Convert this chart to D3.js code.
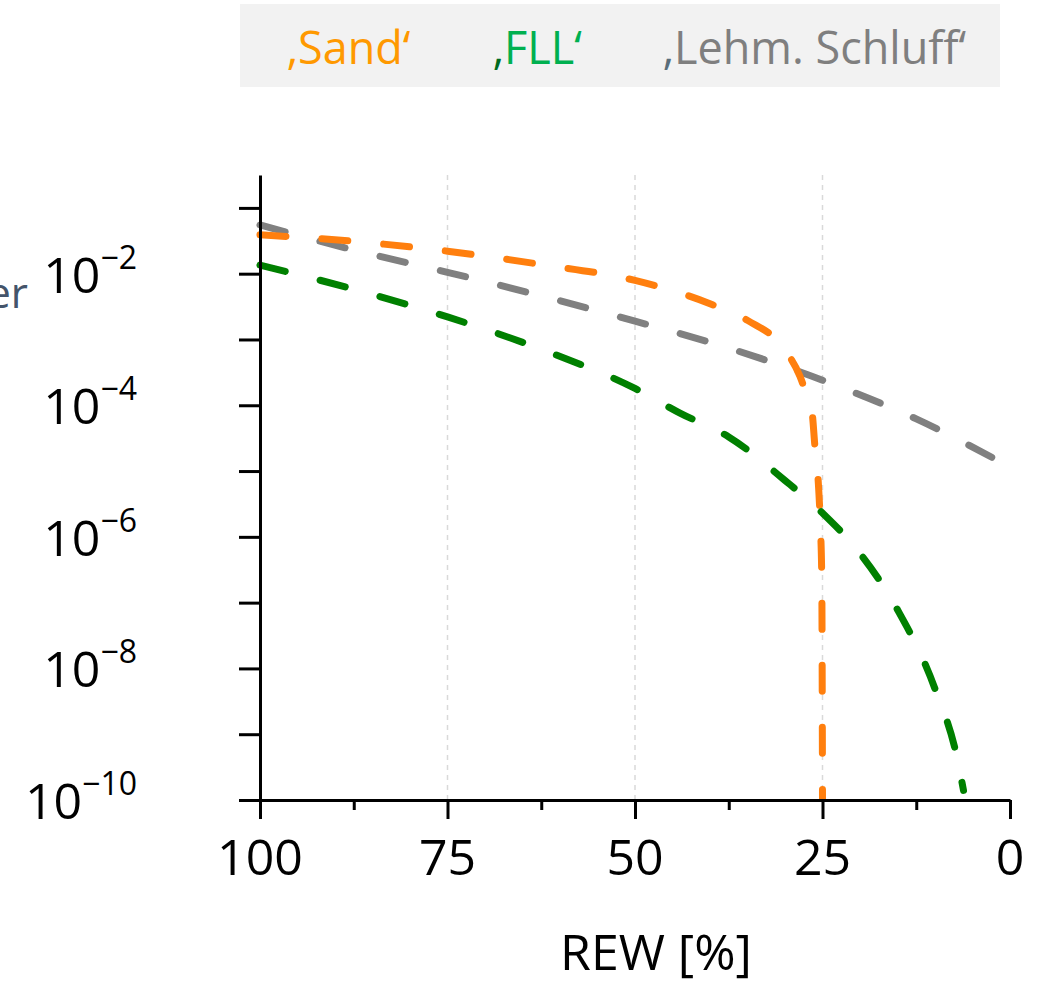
<!DOCTYPE html>
<html>
<head>
<meta charset="utf-8">
<script src="https://cdn.jsdelivr.net/npm/d3@7/dist/d3.min.js"></script>
<style>
  html, body { margin: 0; padding: 0; background: #fff; }
  svg { display: block; }
  text { font-family: "Open Sans", "Noto Sans", sans-serif; }
</style>
</head>
<body>
<svg id="chart" width="1043" height="983"></svg>
<script>
// Relative extractable water (REW, %) for each soil curve
const sandRew = [100, 87.5, 75, 62.5, 50, 40, 35, 30, 28, 27, 26.4, 26, 25.6, 25.3, 25.1, 25];
const sandVal = [0.039, 0.031, 0.022, 0.0138, 7.9e-3, 3.5e-3, 1.95e-3, 6.9e-4, 2.75e-4, 1.3e-4, 7.9e-5, 2.3e-5, 7.9e-6, 1.6e-6, 2.5e-7, 1e-10];

const fllRew = [100, 87.5, 75, 62.5, 50, 44, 37.5, 30, 25, 20, 15, 10, 7, 6.2];
const fllVal = [0.0135, 5.8e-3, 2.2e-3, 7.1e-4, 1.8e-4, 7.6e-5, 3.3e-5, 7.2e-6, 2.3e-6, 5.6e-7, 7.8e-8, 4.9e-9, 4.1e-10, 1.4e-10];

const lehmRew = [100, 87.5, 75, 62.5, 50, 37.5, 25, 12.5, 0];
const lehmVal = [0.055, 0.0229, 0.0105, 4.6e-3, 1.9e-3, 7.4e-4, 2.4e-4, 6.2e-5, 1.15e-5];

// Axis ticks
const xMajorTicks = [100, 75, 50, 25, 0];
const xMinorTicks = [87.5, 62.5, 37.5, 12.5];
const xGridTicks = [75, 50, 25];
const yLabelExponents = [-2, -4, -6, -8, -10];
const yMinorExponents = [-1, -3, -5, -7, -9];

// Legend entries
const legendNames = ["Sand", "FLL", "Lehm. Schluff"];

const svg = d3.select("#chart");

const plotLeft = 260, plotRight = 1010, plotTop = 175, plotBottom = 800;
const x = d3.scaleLinear().domain([100, 0]).range([plotLeft, plotRight]);
const y = d3.scaleLog().domain([1e-10, Math.pow(10, -0.5)]).range([plotBottom, plotTop]);

// Legend band
svg.append("rect")
  .attr("x", 240).attr("y", 4).attr("width", 760).attr("height", 83)
  .attr("fill", "#f2f2f2");

const legendItems = [
  { name: legendNames[0], x: 287, color: "#ff9900", quote: "#ff9900" },
  { name: legendNames[1], x: 493, color: "#00b050", quote: "#006b1f" },
  { name: legendNames[2], x: 663, color: "#7f7f7f", quote: "#5a6e7a" }
];
legendItems.forEach(d => {
  const t = svg.append("text")
    .attr("x", d.x).attr("y", 64)
    .attr("font-size", 45);
  t.append("tspan").attr("fill", d.quote).text("\u201A");
  t.append("tspan").attr("fill", d.color).text(d.name + "\u2018");
});

// Dashed vertical gridlines
svg.append("g")
  .selectAll("line")
  .data(xGridTicks)
  .join("line")
  .attr("x1", d => x(d)).attr("x2", d => x(d))
  .attr("y1", plotTop).attr("y2", plotBottom)
  .attr("stroke", "#d9d9d9")
  .attr("stroke-width", 1.5)
  .attr("stroke-dasharray", "5,5");

// Curves
const line = d3.line()
  .x(d => x(d[0]))
  .y(d => y(d[1]))
  .curve(d3.curveMonotoneX);

const series = [
  { rew: lehmRew, val: lehmVal, color: "#808080" },
  { rew: sandRew, val: sandVal, color: "#ff7f0e" },
  { rew: fllRew, val: fllVal, color: "#008000" }
];

svg.append("defs").append("clipPath").attr("id", "plotClip")
  .append("rect").attr("x", plotLeft - 4).attr("y", plotTop - 10)
  .attr("width", plotRight - plotLeft + 8).attr("height", plotBottom - plotTop + 10);

const curves = svg.append("g").attr("clip-path", "url(#plotClip)");
series.forEach(s => {
  curves.append("path")
    .datum(s.rew.map((r, i) => [r, s.val[i]]))
    .attr("d", line)
    .attr("fill", "none")
    .attr("stroke", s.color)
    .attr("stroke-width", 7)
    .attr("stroke-linecap", "round")
    .attr("stroke-dasharray", "26,36");
});

// Y axis (log)
const yAxisG = svg.append("g")
  .attr("transform", `translate(${plotLeft},0)`)
  .call(d3.axisLeft(y)
    .tickValues(yLabelExponents.concat(yMinorExponents).map(e => Math.pow(10, e)))
    .tickSize(21)
    .tickSizeOuter(0)
    .tickFormat(""));

// X axis
const xAxisG = svg.append("g")
  .attr("transform", `translate(0,${plotBottom})`)
  .call(d3.axisBottom(x)
    .tickValues(xMajorTicks)
    .tickSize(19)
    .tickSizeOuter(0)
    .tickFormat(""));

const xMinorG = svg.append("g")
  .attr("transform", `translate(0,${plotBottom})`)
  .call(d3.axisBottom(x)
    .tickValues(xMinorTicks)
    .tickSize(10)
    .tickSizeOuter(0)
    .tickFormat(""));
xMinorG.select(".domain").remove();

[yAxisG, xAxisG, xMinorG].forEach(g => {
  g.select(".domain").attr("stroke", "#000").attr("stroke-width", 3);
  g.selectAll(".tick line").attr("stroke", "#000").attr("stroke-width", 3);
});

// Y tick labels as powers of ten
svg.append("g")
  .selectAll("text")
  .data(yLabelExponents)
  .join("text")
  .attr("x", 137)
  .attr("y", d => y(Math.pow(10, d)) + 19)
  .attr("text-anchor", "end")
  .attr("fill", "#000")
  .attr("font-size", 50)
  .each(function (d) {
    const t = d3.select(this);
    t.append("tspan").text("10");
    t.append("tspan").attr("dy", -24).attr("font-size", 32).text("\u2212" + Math.abs(d));
  });

// X tick labels
svg.append("g")
  .selectAll("text")
  .data(xMajorTicks)
  .join("text")
  .attr("x", d => x(d))
  .attr("y", 875)
  .attr("text-anchor", "middle")
  .attr("fill", "#000")
  .attr("font-size", 50)
  .text(d => d);

// X axis title
svg.append("text")
  .attr("x", 656).attr("y", 970)
  .attr("text-anchor", "middle")
  .attr("fill", "#000")
  .attr("font-size", 50)
  .text("REW [%]");

// Y axis title (runs off the left edge)
svg.append("text")
  .attr("x", 28).attr("y", 308)
  .attr("text-anchor", "end")
  .attr("fill", "#44546a")
  .attr("font-size", 42)
  .text("er");
</script>
</body>
</html>
